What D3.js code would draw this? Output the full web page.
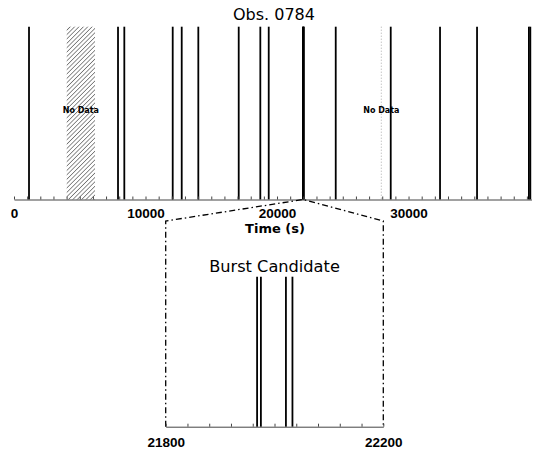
<!DOCTYPE html>
<html>
<head>
<meta charset="utf-8">
<script src="https://cdn.jsdelivr.net/npm/d3@7"></script>
<style>
  body { margin: 0; background: #fff; }
  text { font-family: "DejaVu Sans", sans-serif; fill: #000; }
  .tick text { font-family: "Liberation Sans", Arial, sans-serif; font-weight: bold; font-size: 13.5px; }
  .axis path, .axis line { stroke: #444; }
</style>
</head>
<body>
<svg id="chart" width="533" height="453"></svg>
<script>
// event arrival times (s) over the whole observation
const obsEvents = [1141, 7909, 8388, 12068, 12753, 14015, 17087, 18730, 19369,
  24464, 28646, 32395, 35209, 39150, 39260];
// events of the burst candidate (also shown in the top panel)
const burstEvents = [21968, 21975, 22021, 22033];
// gaps with no data (start, end in s)
const gapStart = [4010, 27930];
const gapEnd = [6160, 27930];
const obsTicks = [0, 10000, 20000, 30000];
const burstTicks = [21800, 22200];
const obsRange = [0, 39350];
const burstRange = [21800, 22200];

const svg = d3.select('#chart');

const defs = svg.append('defs');
defs.append('pattern')
  .attr('id', 'hatch')
  .attr('patternUnits', 'userSpaceOnUse')
  .attr('width', 3.1).attr('height', 10)
  .attr('patternTransform', 'rotate(45)')
  .append('line')
  .attr('x1', 0).attr('y1', 0).attr('x2', 0).attr('y2', 10)
  .attr('stroke', '#222').attr('stroke-width', 1);

// top panel
const upper = { y0: 26.7, y1: 199.5 };
const x = d3.scaleLinear().domain(obsRange).range([14, 531.5]);

svg.append('text')
  .attr('x', 274).attr('y', 20)
  .attr('text-anchor', 'middle')
  .attr('font-size', 16)
  .text('Obs. 0784');

gapStart.forEach((s, i) => {
  const e = gapEnd[i];
  if (x(e) - x(s) > 1) {
    svg.append('rect')
      .attr('x', x(s)).attr('y', upper.y0)
      .attr('width', x(e) - x(s)).attr('height', upper.y1 - upper.y0)
      .attr('fill', 'url(#hatch)');
  } else {
    svg.append('line')
      .attr('x1', x(s)).attr('x2', x(s))
      .attr('y1', upper.y0).attr('y2', upper.y1)
      .attr('stroke', '#999').attr('stroke-width', 0.8)
      .attr('stroke-dasharray', '1,2');
  }
  svg.append('text')
    .attr('x', x((s + e) / 2)).attr('y', 113)
    .attr('text-anchor', 'middle')
    .attr('font-size', 8).attr('font-weight', 'bold')
    .text('No Data');
});

svg.append('g')
  .selectAll('line')
  .data(obsEvents.concat(burstEvents))
  .enter().append('line')
  .attr('x1', d => x(d)).attr('x2', d => x(d))
  .attr('y1', upper.y0).attr('y2', upper.y1)
  .attr('stroke', '#000').attr('stroke-width', 1.8);

svg.append('g')
  .attr('class', 'axis')
  .attr('transform', `translate(0,${upper.y1})`)
  .call(d3.axisBottom(x)
    .tickValues(d3.range(0, obsRange[1], 1000))
    .tickFormat(d => obsTicks.includes(d) ? d : '')
    .tickSizeInner(-3).tickSizeOuter(0).tickPadding(8.7));

svg.append('text')
  .attr('x', 275).attr('y', 232.6)
  .attr('text-anchor', 'middle')
  .attr('font-family', '"Liberation Sans", Arial, sans-serif')
  .attr('font-weight', 'bold')
  .attr('font-size', 13)
  .text('Time (s)');

// bottom panel (zoom on the burst)
const lower = { y0: 221, y1: 426.7, ev: 276.7 };
const xb = d3.scaleLinear().domain(burstRange).range([165.7, 383.3]);
const apex = x((burstRange[0] + burstRange[1]) / 2);

svg.append('path')
  .attr('d', `M${xb(burstRange[0])},${lower.y1}V${lower.y0}L${apex},${upper.y1}L${xb(burstRange[1])},${lower.y0}V${lower.y1}`)
  .attr('fill', 'none')
  .attr('stroke', '#000').attr('stroke-width', 1.3)
  .attr('stroke-dasharray', '6,3,1.5,3');

svg.append('text')
  .attr('x', 274.5).attr('y', 271.5)
  .attr('text-anchor', 'middle')
  .attr('font-size', 16.2)
  .text('Burst Candidate');

svg.append('g')
  .selectAll('line')
  .data(burstEvents)
  .enter().append('line')
  .attr('x1', d => xb(d)).attr('x2', d => xb(d))
  .attr('y1', lower.ev).attr('y2', lower.y1)
  .attr('stroke', '#000').attr('stroke-width', 1.8);

svg.append('g')
  .attr('class', 'axis')
  .attr('transform', `translate(0,${lower.y1})`)
  .call(d3.axisBottom(xb)
    .tickValues(d3.range(burstRange[0], burstRange[1] + 1, 40))
    .tickFormat(d => burstTicks.includes(d) ? d : '')
    .tickSizeInner(-3).tickSizeOuter(0).tickPadding(10.8));
</script>
</body>
</html>
